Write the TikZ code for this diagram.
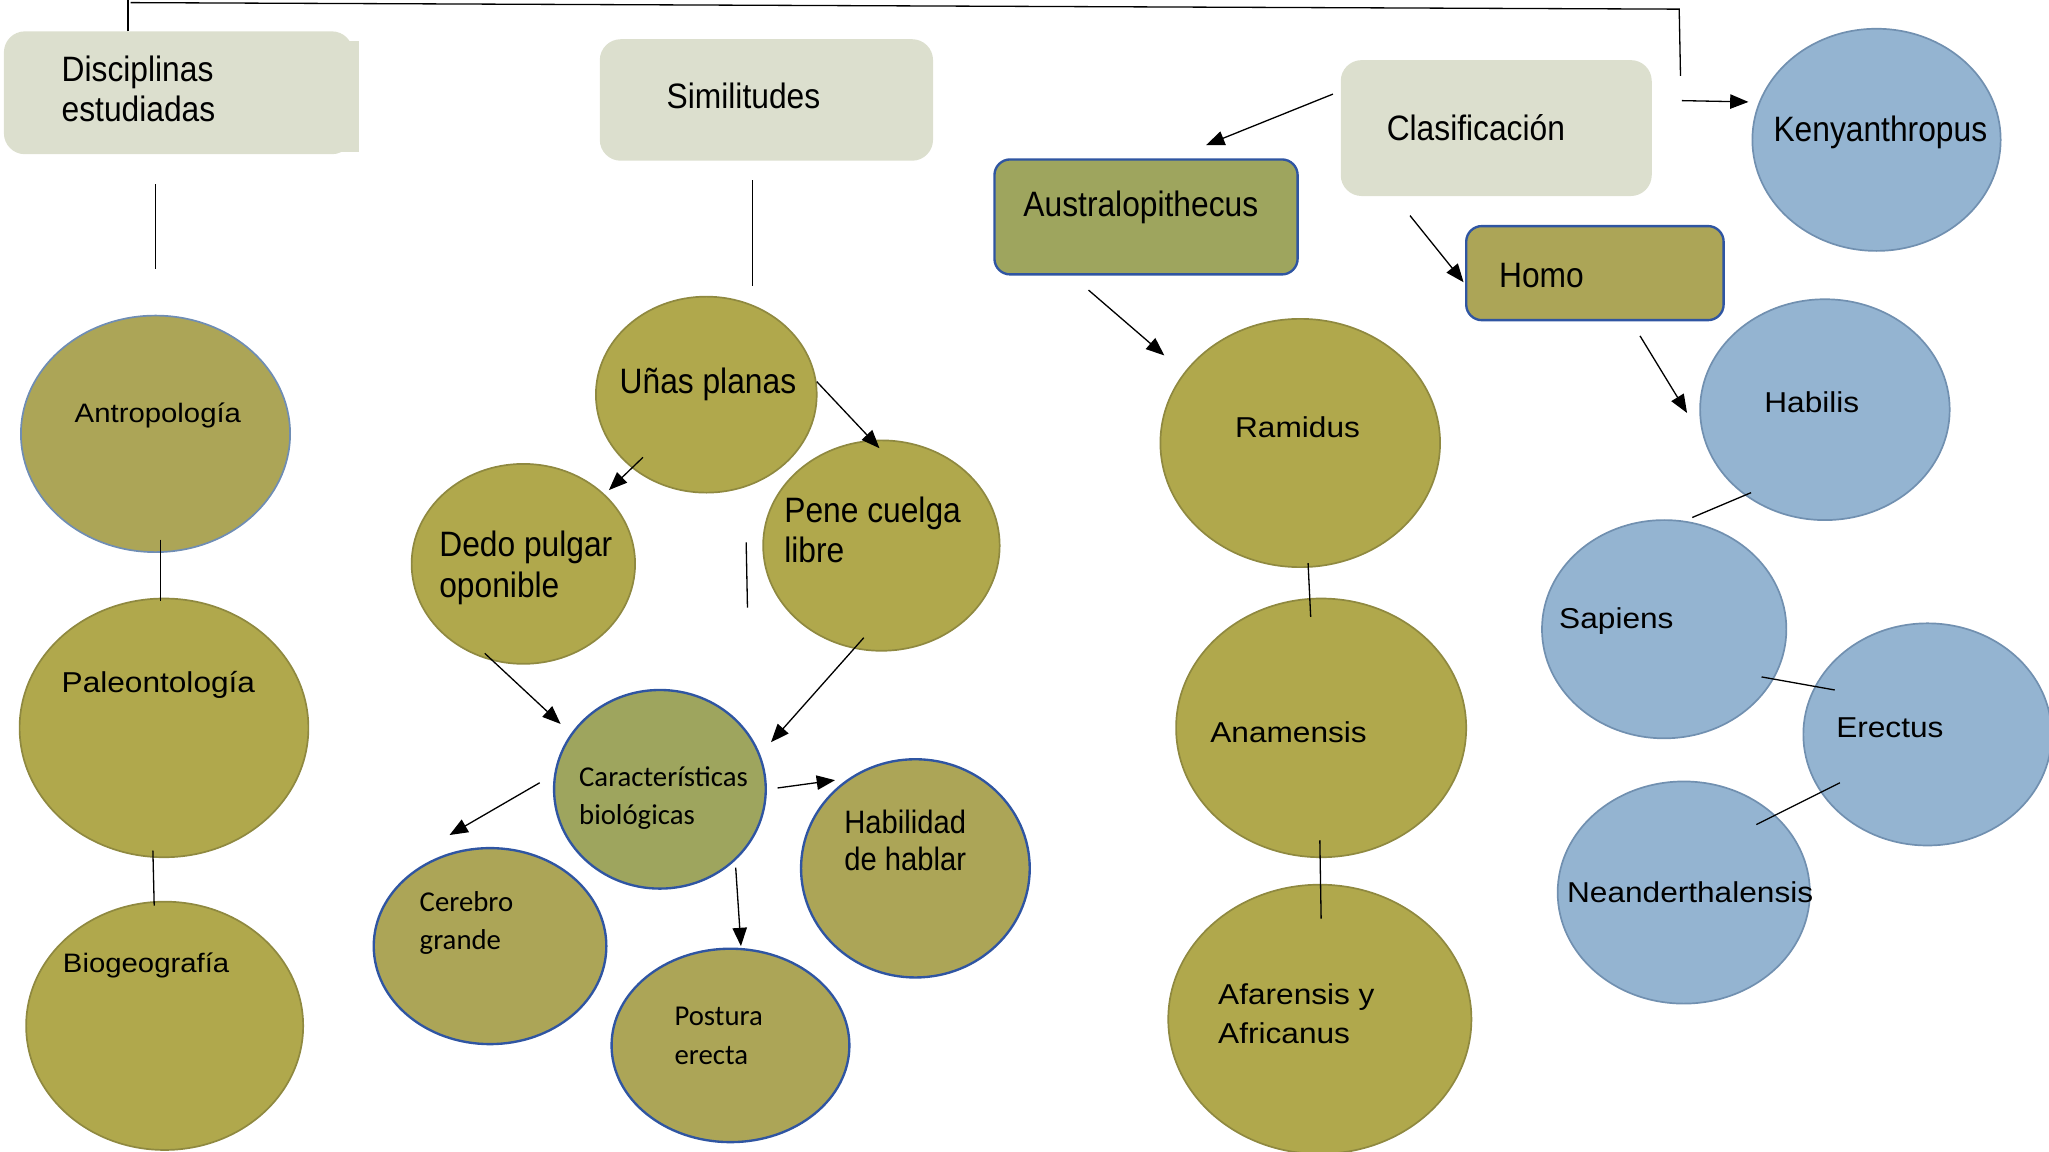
\documentclass[tikz,border=0pt]{standalone}
\usepackage{fontspec}
\setmainfont{Liberation Sans}
\newfontfamily\narf[FakeStretch=0.9]{Liberation Sans}
\newfontfamily\widf[FakeStretch=1.1]{Liberation Sans}
\newfontfamily\calf{Carlito}
\usetikzlibrary{shapes.geometric,arrows.meta}
\definecolor{gboxc}{HTML}{DCDFCE}
\definecolor{oliveF}{HTML}{B0A84C}
\definecolor{oliveD}{HTML}{8F8940}
\definecolor{olive2}{HTML}{ACA557}
\definecolor{greenF}{HTML}{9EA55E}
\definecolor{blueB}{HTML}{2F55A2}
\definecolor{grayB}{HTML}{6F8DB4}
\definecolor{blueF}{HTML}{94B4D1}
\definecolor{blueD}{HTML}{7190B0}
\tikzset{
  gbox/.style={rectangle, rounded corners=16pt, fill=gboxc, draw=none, inner sep=0pt},
  ell/.style={ellipse, inner sep=0pt, line width=1.3pt},
  olv/.style={ell, fill=oliveF, draw=oliveD},
  olvb/.style={ell, fill=olive2, draw=blueB, line width=1.8pt},
  grnb/.style={ell, fill=greenF, draw=blueB, line width=1.8pt},
  blu/.style={ell, fill=blueF, draw=blueD},
  rbox/.style={rectangle, rounded corners=12pt, draw=blueB, line width=1.8pt, inner sep=0pt},
  lbl/.style={inner sep=0pt, anchor=west, align=left, text=black},
  narT/.style={lbl, font={\narf\fontsize{27}{30}\selectfont}},
  widT/.style={lbl, font={\widf\fontsize{22}{30}\selectfont}},
  calT/.style={lbl, font={\calf\fontsize{22}{29}\selectfont}},
  conn/.style={line width=1pt, draw=black},
  arr/.style={conn, -{Triangle[length=14pt,width=11pt]}},
}
\begin{document}
\begin{tikzpicture}[x=1pt,y=-1pt]
\useasboundingbox (0,0) rectangle (1568,881);

% grey header boxes
\fill[gboxc] (255,31) rectangle (275,116);
\node[gbox, minimum width=267pt, minimum height=94pt] (disc) at (136.5,71) {};
\node[gbox, minimum width=255pt, minimum height=93pt] (simi) at (586.5,76.5) {};
\node[gbox, minimum width=238pt, minimum height=104pt] (clas) at (1145,98) {};

% coloured boxes
\node[rbox, fill=greenF, minimum width=232pt, minimum height=88pt] (austr) at (877,166) {};
\node[rbox, fill=olive2, minimum width=197pt, minimum height=72pt] (homo) at (1220.5,209) {};

% left column
\node[ell, fill=olive2, draw=grayB, minimum width=206pt, minimum height=181pt] (antro) at (119,332) {};
\node[olv, minimum width=221pt, minimum height=198pt] (paleo) at (125.5,557) {};
\node[olv, minimum width=212pt, minimum height=190pt] (bio) at (126,785) {};

% middle column
\node[olv, minimum width=169pt, minimum height=150pt] (unas) at (540.5,302) {};
\node[olv, minimum width=171pt, minimum height=153pt] (dedo) at (400.5,431.5) {};
\node[olv, minimum width=181pt, minimum height=161pt] (pene) at (674.5,417.5) {};
\node[grnb, minimum width=162pt, minimum height=152pt] (carac) at (505,604) {};
\node[olvb, minimum width=178pt, minimum height=150pt] (cereb) at (375,724) {};
\node[olvb, minimum width=182pt, minimum height=148pt] (postu) at (559,800) {};
\node[olvb, minimum width=175pt, minimum height=167pt] (habla) at (700.5,664.5) {};

% australopithecus column
\node[olv, minimum width=214pt, minimum height=190pt] (rami) at (995,339) {};
\node[olv, minimum width=222pt, minimum height=198pt] (anam) at (1011,557) {};
\node[olv, minimum width=232pt, minimum height=206pt] (afar) at (1010,780) {};

% homo column
\node[blu, minimum width=190pt, minimum height=170pt] (keny) at (1436,107) {};
\node[blu, minimum width=191pt, minimum height=169pt] (habi) at (1396.5,313.5) {};
\node[blu, minimum width=187pt, minimum height=167pt] (sapi) at (1273.5,481.5) {};
\node[blu, minimum width=190pt, minimum height=170pt] (erec) at (1475,562) {};
\node[blu, minimum width=193pt, minimum height=170pt] (nean) at (1288.5,683) {};

% texts
\node[narT] (tdisc) at (47,68) {Disciplinas\\estudiadas};
\node[narT] (tsimi) at (510,73) {Similitudes};
\node[narT] (tclas) at (1061,98) {Clasificación};
\node[narT] (taustr) at (783,159) {Australopithecus};
\node[narT] (thomo) at (1147,211) {Homo};
\node[narT] (tkeny) at (1357,101) {Kenyanthropus};
\node[widT, font={\widf\fontsize{20.4}{30}\selectfont}] (tantro) at (57,318) {Antropología};
\node[widT] (tpaleo) at (47,524) {Paleontología};
\node[widT, font={\widf\fontsize{20.4}{30}\selectfont}] (tbio) at (48,739) {Biogeografía};
\node[narT] (tunas) at (474,294) {Uñas planas};
\node[narT, font={\narf\fontsize{27}{31}\selectfont}] (tdedo) at (336,434.5) {Dedo pulgar\\oponible};
\node[narT, font={\narf\fontsize{27}{31}\selectfont}] (tpene) at (600,405.5) {Pene cuelga\\libre};
\node[calT] (tcarac) at (443,610.5) {Características\\biológicas};
\node[calT] (tcereb) at (321,706.5) {Cerebro\\grande};
\node[calT, font={\calf\fontsize{22}{30}\selectfont}] (tpostu) at (516,793) {Postura\\erecta};
\node[narT, font={\narf\fontsize{24.8}{28}\selectfont}] (thabla) at (646,643) {Habilidad\\de hablar};
\node[widT] (trami) at (945,327) {Ramidus};
\node[widT] (tanam) at (926,560) {Anamensis};
\node[widT] (tafar) at (932,776) {Afarensis y\\Africanus};
\node[widT] (thabi) at (1350,308) {Habilis};
\node[widT] (tsapi) at (1193,475) {Sapiens};
\node[widT] (terec) at (1405,557) {Erectus};
\node[widT] (tnean) at (1199,683) {Neanderthalensis};

% connector end points
\coordinate (top0) at (98,24);
\coordinate (top1) at (98,0);
\coordinate (top2) at (100,2);
\coordinate (top3) at (1285,7);
\coordinate (top4) at (1286,58);
\coordinate (k0) at (1287,77);
\coordinate (k1) at (1338,78);
\coordinate (l1a) at (119,141); \coordinate (l1b) at (119,206);
\coordinate (l2a) at (123,413); \coordinate (l2b) at (123,460);
\coordinate (l3a) at (117,651); \coordinate (l3b) at (118,693);
\coordinate (l4a) at (576,138); \coordinate (l4b) at (576,219);
\coordinate (l5a) at (571,415); \coordinate (l5b) at (572,465);
\coordinate (l6a) at (1001,431); \coordinate (l6b) at (1003,472);
\coordinate (l7a) at (1010,643); \coordinate (l7b) at (1011,703);
\coordinate (l8a) at (1340,377); \coordinate (l8b) at (1295,396);
\coordinate (l9a) at (1348,518); \coordinate (l9b) at (1404,528);
\coordinate (l10a) at (1408,599); \coordinate (l10b) at (1344,631);
\coordinate (a1a) at (1020,72); \coordinate (a1b) at (923,111);
\coordinate (a2a) at (833,222); \coordinate (a2b) at (891,272);
\coordinate (a3a) at (1079,165); \coordinate (a3b) at (1120,216);
\coordinate (a5a) at (1255,257); \coordinate (a5b) at (1291,316);
\coordinate (a6a) at (492,350); \coordinate (a6b) at (466,375);
\coordinate (a7a) at (625,292); \coordinate (a7b) at (673,343);
\coordinate (a8a) at (371,500); \coordinate (a8b) at (429,554);
\coordinate (a9a) at (661,488); \coordinate (a9b) at (590,568);
\coordinate (a10a) at (413,599); \coordinate (a10b) at (344,639);
\coordinate (a11a) at (595,603); \coordinate (a11b) at (639,597);
\coordinate (a12a) at (563,664); \coordinate (a12b) at (567,724);

% plain connectors
\draw[conn] (top0) -- (top1);
\draw[conn] (top2) -- (top3) -- (top4);
\foreach \p in {l1,l2,l3,l4,l5,l6,l7,l8,l9,l10} \draw[conn] (\p a) -- (\p b);
% arrows
\draw[arr] (k0) -- (k1);
\foreach \p in {a1,a2,a3,a5,a6,a7,a8,a9,a10,a11,a12} \draw[arr] (\p a) -- (\p b);
\end{tikzpicture}
\end{document}
